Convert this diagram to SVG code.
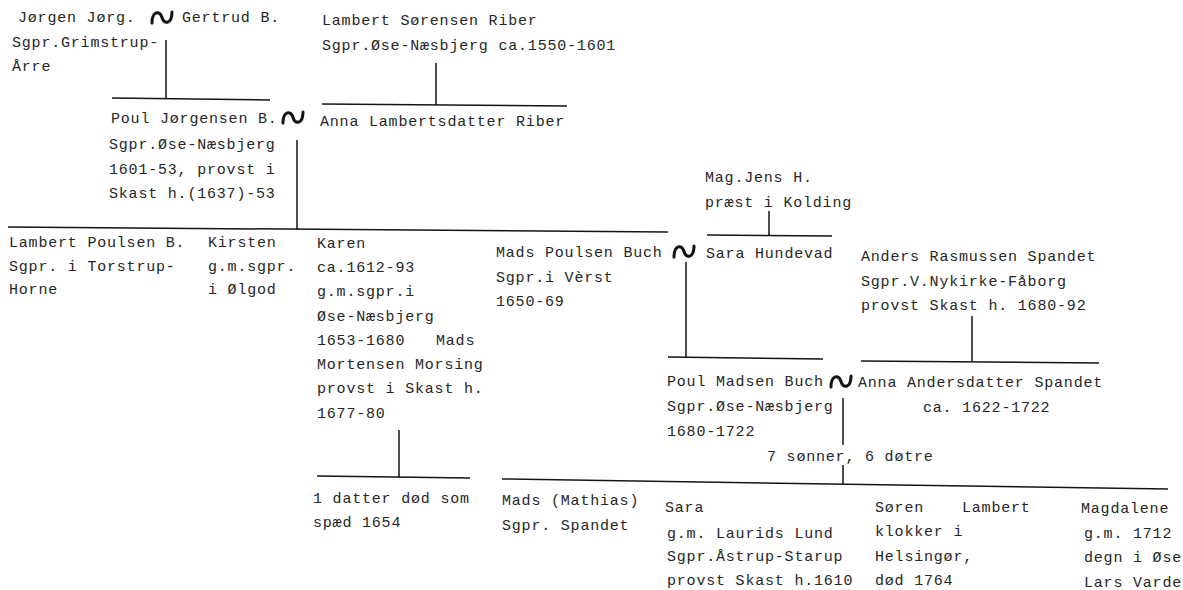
<svg xmlns="http://www.w3.org/2000/svg" xmlns:xlink="http://www.w3.org/1999/xlink" width="1183" height="590" viewBox="0 0 1183 590">
<style>
text{font-family:"Liberation Mono","DejaVu Sans Mono",monospace;font-size:15px;letter-spacing:0.8px;fill:#262626}
.ln{fill:none;stroke:#151515;stroke-width:1.5}
.mar{fill:none;stroke:#111;stroke-width:3;stroke-linecap:round}
</style>
<defs>
<path id="m" class="mar" d="M0,11 C0,-1 8,-2 10,5.5 C12,13 20,12 20,0"/>
</defs>
<rect width="1183" height="590" fill="#fff"/>
<g id="connectors">
<path class="ln" d="M166,40 V99 M112,98 L270,100"/>
<path class="ln" d="M436,63 V105 M322,104 L567,106"/>
<path class="ln" d="M297,140 V229 M8,227 L668,232"/>
<path class="ln" d="M769,211 V235 M707,235 L832,236"/>
<path class="ln" d="M686,262 V358 M668,357 L823,359"/>
<path class="ln" d="M972,316 V361 M861,361 L1099,363"/>
<path class="ln" d="M843,398 V445 M843,465 V484"/>
<path class="ln" d="M399,430 V477 M317,476 L470,478"/>
<path class="ln" d="M502,479 L1168,489"/>
<use xlink:href="#m" x="152" y="12"/>
<use xlink:href="#m" x="283" y="112"/>
<use xlink:href="#m" x="674" y="246"/>
<use xlink:href="#m" x="831" y="376"/>
</g>
<g id="n-jorgen"><text x="18" y="22">Jørgen Jørg.</text><text x="12" y="47">Sgpr.Grimstrup-</text><text x="12" y="71">Årre</text></g>
<g id="n-gertrud"><text x="182" y="22">Gertrud B.</text></g>
<g id="n-lambert-s"><text x="322" y="25">Lambert Sørensen Riber</text><text x="322" y="50">Sgpr.Øse-Næsbjerg ca.1550-1601</text></g>
<g id="n-poul-j"><text x="111" y="123">Poul Jørgensen B.</text><text x="109" y="149">Sgpr.Øse-Næsbjerg</text><text x="109" y="174">1601-53, provst i</text><text x="109" y="198">Skast h.(1637)-53</text></g>
<g id="n-anna-l"><text x="320" y="126">Anna Lambertsdatter Riber</text></g>
<g id="n-jens"><text x="705" y="182">Mag.Jens H.</text><text x="705" y="207">præst i Kolding</text></g>
<g id="n-lambert-p"><text x="9" y="247">Lambert Poulsen B.</text><text x="9" y="271">Sgpr. i Torstrup-</text><text x="9" y="294">Horne</text></g>
<g id="n-kirsten"><text x="208" y="247">Kirsten</text><text x="208" y="271">g.m.sgpr.</text><text x="208" y="294">i Ølgod</text></g>
<g id="n-karen"><text x="317" y="248">Karen</text><text x="317" y="272">ca.1612-93</text><text x="317" y="296">g.m.sgpr.i</text><text x="317" y="321">Øse-Næsbjerg</text><text x="317" y="345">1653-1680</text><text x="436" y="345">Mads</text><text x="317" y="369">Mortensen Morsing</text><text x="317" y="393">provst i Skast h.</text><text x="317" y="418">1677-80</text></g>
<g id="n-mads-pb"><text x="496" y="257">Mads Poulsen Buch</text><text x="496" y="282">Sgpr.i Vèrst</text><text x="496" y="306">1650-69</text></g>
<g id="n-sara-h"><text x="706" y="258">Sara Hundevad</text></g>
<g id="n-anders"><text x="861" y="261">Anders Rasmussen Spandet</text><text x="861" y="286">Sgpr.V.Nykirke-Fåborg</text><text x="861" y="310">provst Skast h. 1680-92</text></g>
<g id="n-poul-m"><text x="667" y="386">Poul Madsen Buch</text><text x="667" y="411">Sgpr.Øse-Næsbjerg</text><text x="667" y="436">1680-1722</text></g>
<g id="n-anna-a"><text x="858" y="387">Anna Andersdatter Spandet</text><text x="923" y="412">ca. 1622-1722</text></g>
<g id="n-children"><text x="767" y="461">7 sønner, 6 døtre</text></g>
<g id="n-datter"><text x="313" y="503">1 datter død som</text><text x="313" y="527">spæd 1654</text></g>
<g id="n-mads-m"><text x="502" y="505">Mads (Mathias)</text><text x="502" y="530">Sgpr. Spandet</text></g>
<g id="n-sara"><text x="665" y="512">Sara</text><text x="667" y="538">g.m. Laurids Lund</text><text x="667" y="561">Sgpr.Åstrup-Starup</text><text x="667" y="585">provst Skast h.1610</text></g>
<g id="n-soren"><text x="875" y="512">Søren</text><text x="875" y="536">klokker i</text><text x="875" y="561">Helsingør,</text><text x="875" y="585">død 1764</text></g>
<g id="n-lambert2"><text x="962" y="512">Lambert</text></g>
<g id="n-magdalene"><text x="1081" y="513">Magdalene</text><text x="1084" y="538">g.m. 1712</text><text x="1084" y="562">degn i Øse</text><text x="1084" y="587">Lars Varde</text></g>
</svg>
